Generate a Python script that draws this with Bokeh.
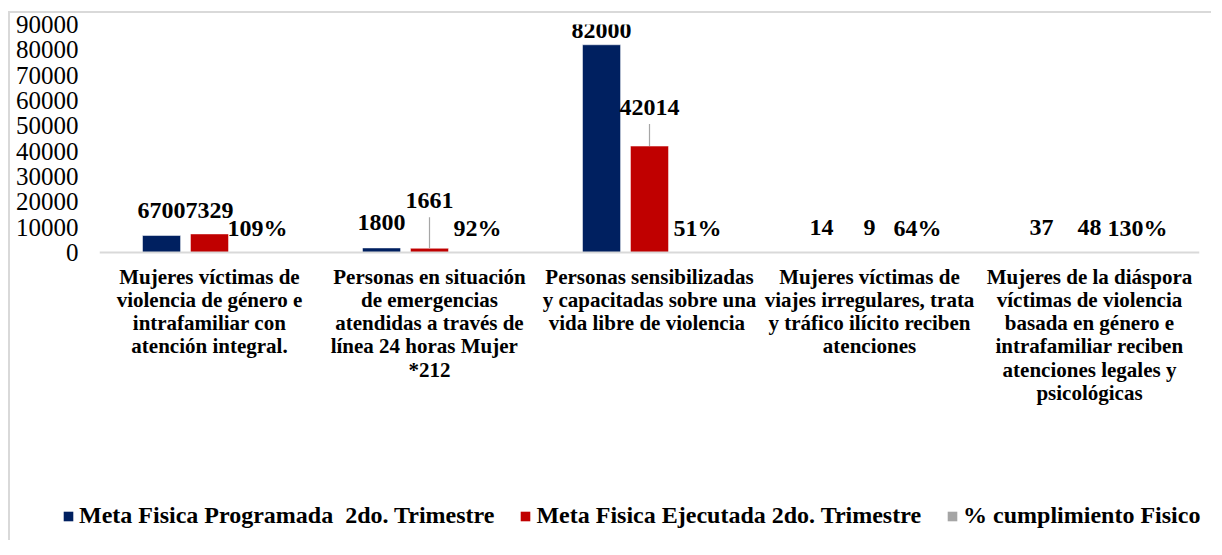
from bokeh.plotting import figure
from bokeh.layouts import column
from bokeh.models import (ColumnDataSource, FactorRange, FixedTicker, NumeralTickFormatter,
                          Legend, LegendItem, Span, Range1d)
from bokeh.transform import dodge
from bokeh.core.properties import value
from bokeh.embed import file_html
from bokeh.resources import INLINE

# ---------------- data ----------------
categories = [
    "Mujeres víctimas de\nviolencia de género e\nintrafamiliar con\natención integral.",
    "Personas en situación\nde emergencias\natendidas a través de\nlínea  24 horas  Mujer\n*212",
    "Personas sensibilizadas\ny capacitadas sobre una\nvida libre de  violencia",
    "Mujeres víctimas de\nviajes irregulares, trata\ny tráfico ilícito reciben\natenciones",
    "Mujeres de la diáspora\nvíctimas de violencia\nbasada en género e\nintrafamiliar reciben\natenciones legales y\npsicológicas",
]
programada = [6700, 1800, 82000, 14, 37]
ejecutada = [7329, 1661, 42014, 9, 48]
cumplimiento = [1.09, 0.92, 0.51, 0.64, 1.30]
y_ticks = [0, 10000, 20000, 30000, 40000, 50000, 60000, 70000, 80000, 90000]
series_names = ["Meta Fisica Programada  2do. Trimestre",
                "Meta Fisica Ejecutada 2do. Trimestre",
                "% cumplimiento Fisico"]

# ---------------- style ----------------
NAVY, RED, GRAY = "#002060", "#C00000", "#A5A5A5"
FONT = "Liberation Serif"
FRAME_W = 1100
PX_DATA = 228                 # pixels from 0 to 90000
PX_BELOW = 238                # pixels of frame below zero (category labels)
Y_MAX = 90000
UPP = Y_MAX / PX_DATA         # data units per pixel
OFF = 0.218                   # dodge offset (category units)
BAR_W = 0.173
LIFT = 25                     # default label lift above bar top (px)
red_lift_px = [23.5, 48, 39, 25, 25]   # hand-moved labels in the original
leader_top_px = [0, 31, 22, 0, 0]      # leader line length for moved labels
TOP_CAP = 6                   # labels kept inside the plot area

def no_frame_align(fig):
    if "frame_align" in fig.properties():
        fig.frame_align = False

p = figure(x_range=FactorRange(factors=categories), y_range=(-PX_BELOW * UPP, Y_MAX),
           frame_width=FRAME_W, frame_height=PX_DATA + PX_BELOW,
           min_border_left=99, min_border_right=12, min_border_top=24,
           min_border_bottom=0, output_backend="svg", toolbar_location=None)
p.outline_line_color = None
p.border_fill_color = None
p.background_fill_color = None
p.xgrid.visible = False
p.ygrid.visible = False
p.xaxis.visible = False
no_frame_align(p)

nav_label_y = [min(v + LIFT * UPP, Y_MAX - TOP_CAP * UPP) for v in programada]
red_label_y = [v + l * UPP for v, l in zip(ejecutada, red_lift_px)]
pct_label_y = [0 + LIFT * UPP for _ in cumplimiento]

src = ColumnDataSource(dict(
    cat=categories, prog=programada, ejec=ejecutada, pct=cumplimiento,
    prog_txt=[str(v) for v in programada],
    ejec_txt=[str(v) for v in ejecutada],
    pct_txt=[f"{round(v * 100)}%" for v in cumplimiento],
    nav_y=nav_label_y, red_y=red_label_y, pct_y=pct_label_y,
    zero=[0] * len(categories),
))

# zero line
p.add_layout(Span(location=0, dimension="width", line_color="#D9D9D9", line_width=2))

r1 = p.vbar(x=dodge("cat", -OFF, range=p.x_range), top="prog", width=BAR_W,
            source=src, fill_color=NAVY, line_color="white", line_width=0.5)
r2 = p.vbar(x=dodge("cat", 0, range=p.x_range), top="ejec", width=BAR_W,
            source=src, fill_color=RED, line_color="white", line_width=0.5)
r3 = p.vbar(x=dodge("cat", OFF, range=p.x_range), top="pct", width=BAR_W,
            source=src, fill_color=GRAY, line_color=None)

# leader lines for moved labels
lead_x, lead_y0, lead_y1 = [], [], []
for c, v, l in zip(categories, ejecutada, leader_top_px):
    if l > 0:
        lead_x.append(c)
        lead_y0.append(v)
        lead_y1.append(v + l * UPP)
p.segment(x0="x", y0="y0", x1="x", y1="y1",
          source=ColumnDataSource(dict(x=lead_x, y0=lead_y0, y1=lead_y1)),
          line_color="#A6A6A6", line_width=1.2)

lab_kw = dict(text_font=value(FONT), text_font_style="bold", text_font_size="24px",
              text_align="center", text_baseline="alphabetic", text_color="black")
p.text(x=dodge("cat", -OFF, range=p.x_range), y="nav_y", text="prog_txt", source=src, **lab_kw)
p.text(x=dodge("cat", 0, range=p.x_range), y="red_y", text="ejec_txt", source=src, **lab_kw)
p.text(x=dodge("cat", OFF, range=p.x_range), y="pct_y", text="pct_txt", source=src, **lab_kw)

# category labels (below zero line)
p.text(x="cat", y="zero", text="cat", source=src, y_offset=12,
       text_font=value(FONT), text_font_style="bold", text_font_size="21px",
       text_align="center", text_baseline="top", text_color="black",
       text_line_height=0.97)

# y axis
ya = p.yaxis[0]
ya.ticker = FixedTicker(ticks=y_ticks)
ya.formatter = NumeralTickFormatter(format="0")
ya.axis_line_color = None
ya.major_tick_line_color = None
ya.minor_tick_line_color = None
ya.major_label_text_font = FONT
ya.major_label_text_font_size = "25px"
ya.major_label_text_color = "black"
ya.major_label_standoff = 15

# ---------------- legend strip ----------------
LEG_W, LEG_H = 1211, 50
lf = figure(x_range=Range1d(0, LEG_W), y_range=Range1d(0, LEG_H),
            width=LEG_W, height=LEG_H, min_border=0,
            x_axis_location=None, y_axis_location=None,
            output_backend="svg", toolbar_location=None)
lf.outline_line_color = None
lf.border_fill_color = None
lf.background_fill_color = None
lf.xgrid.visible = False
lf.ygrid.visible = False
no_frame_align(lf)
colors = [NAVY, RED, GRAY]
# zero-height swatch carriers (legend only)
leg_renderers = [lf.vbar(x=[0], top=[0], width=1, fill_color=c, line_color=None)
                 for c in colors]
legend = Legend(items=[LegendItem(label=n, renderers=[r])
                       for n, r in zip(series_names, leg_renderers)],
                orientation="horizontal", location=(62, 11),
                glyph_width=12, glyph_height=12, label_standoff=5, spacing=25,
                label_height=24, padding=0, margin=0, border_line_color=None,
                background_fill_alpha=0,
                label_text_font=FONT, label_text_font_style="bold",
                label_text_font_size="24px", label_text_color="black")
lf.add_layout(legend, "center")

layout = column(p, lf, spacing=0)
layout.styles = {
    "background": ("linear-gradient(#D9D9D9, #D9D9D9) 8px 11px / 100% 2px no-repeat, "
                   "linear-gradient(#D9D9D9, #D9D9D9) 8px 11px / 2px 100% no-repeat, #FFFFFF"),
}

open("out.html", "w").write(file_html(layout, INLINE))
